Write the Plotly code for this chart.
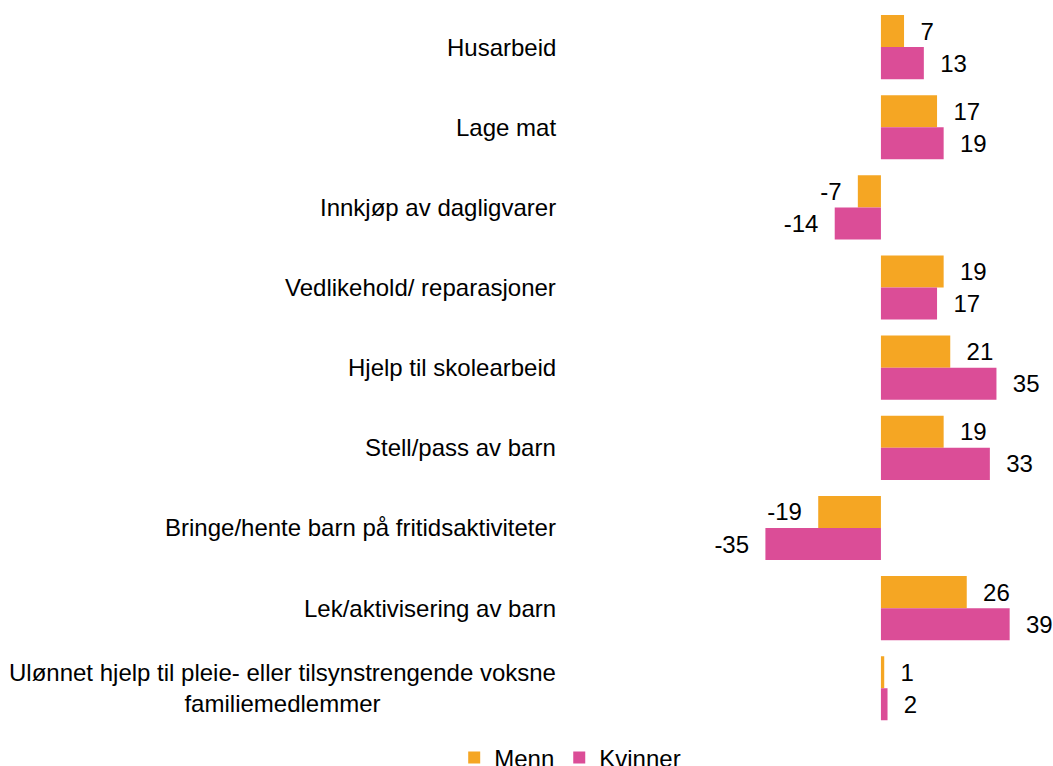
import plotly.graph_objects as go

# Kategorier og verdier
kategorier = [
    "Husarbeid",
    "Lage mat",
    "Innkjøp av dagligvarer",
    "Vedlikehold/ reparasjoner",
    "Hjelp til skolearbeid",
    "Stell/pass av barn",
    "Bringe/hente barn på fritidsaktiviteter",
    "Lek/aktivisering av barn",
    "Ulønnet hjelp til pleie- eller tilsynstrengende voksne<br>familiemedlemmer",
]
menn = [7, 17, -7, 19, 21, 19, -19, 26, 1]
kvinner = [13, 19, -14, 17, 35, 33, -35, 39, 2]

ORANSJE = "#F5A623"
ROSA = "#DB4D97"
FONT = "Liberation Sans, Arial, sans-serif"
STR = 24


def etiketter(verdier):
    # litt luft mellom stolpe og tall
    pad = "\u00a0\u00a0"
    return [pad + str(v) if v >= 0 else str(v) + pad for v in verdier]


fig = go.Figure()
fig.add_trace(go.Bar(
    y=kategorier, x=menn, name="Menn", orientation="h",
    marker=dict(color=ORANSJE, line=dict(width=0)),
    text=etiketter(menn), textposition="outside",
    textfont=dict(size=STR, color="black", family=FONT),
    cliponaxis=False,
))
fig.add_trace(go.Bar(
    y=kategorier, x=kvinner, name="Kvinner", orientation="h",
    marker=dict(color=ROSA, line=dict(width=0)),
    text=etiketter(kvinner), textposition="outside",
    textfont=dict(size=STR, color="black", family=FONT),
    cliponaxis=False,
))

# Kategorinavn som annotasjoner (sentrert flerlinje)
for k in kategorier:
    fig.add_annotation(
        x=0, xref="paper", y=k, yref="y",
        text=k, showarrow=False, xanchor="right", align="center",
        xshift=-12, font=dict(size=STR, color="black", family=FONT),
    )

fig.update_layout(
    width=1053, height=766,
    margin=dict(l=570, r=10, t=7, b=36),
    paper_bgcolor="white", plot_bgcolor="white",
    barmode="group", bargap=0.2, bargroupgap=0,
    font=dict(family=FONT, size=STR, color="black"),
    showlegend=True,
    legend=dict(
        orientation="h", xref="container", yref="container",
        x=0.5415, xanchor="center", y=0.040, yanchor="top",
        font=dict(size=STR), tracegroupgap=0,
    ),
)
fig.update_xaxes(range=[-94.2, 49.1], visible=False, showgrid=False, zeroline=False)
fig.update_yaxes(autorange="reversed", showticklabels=False, showgrid=False,
                 zeroline=False, showline=False, ticks="")

# fjern standardmargen i body så figuren fyller vinduet
fig.write_html("out.html", config={"displayModeBar": False},
               post_script="document.body.style.margin='0';")
